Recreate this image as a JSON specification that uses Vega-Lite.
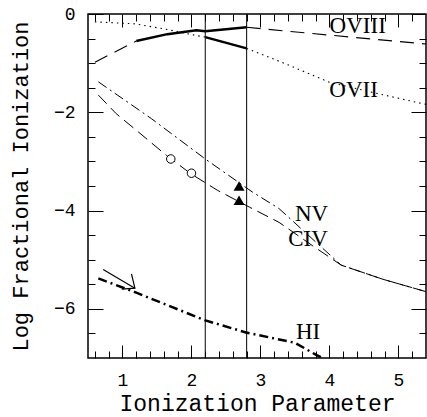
{
  "$schema": "https://vega.github.io/schema/vega-lite/v6.json",
  "width": 338,
  "height": 344,
  "autosize": {"type": "none"},
  "padding": {"left": 88, "top": 14, "right": 1, "bottom": 59},
  "background": "white",
  "config": {
    "view": {"stroke": "black", "strokeWidth": 1.5},
    "axis": {
      "domain": false, "grid": false, "tickColor": "black", "tickWidth": 1,
      "labelColor": "black", "labelFont": "Liberation Mono", "labelFontSize": 18,
      "labelFlush": false, "labelOverlap": false,
      "titleColor": "black", "titleFont": "Liberation Mono", "titleFontSize": 23, "titleFontWeight": "normal"
    }
  },
  "resolve": {"axis": {"x": "independent", "y": "independent"}},
  "layer": [
    {
      "data": {"values": [{"x": 2.2}, {"x": 2.8}]},
      "mark": {"type": "rule", "color": "black", "strokeWidth": 1},
      "encoding": {
        "x": {"field": "x", "type": "quantitative", "scale": {"domain": [0.5, 5.4], "nice": false, "zero": false},
          "axis": {"orient": "bottom", "values": [1, 2, 3, 4, 5], "tickSize": -13, "labelPadding": 26, "title": "Ionization Parameter", "titlePadding": 3}}
      }
    },
    {
      "data": {"values": [
        {"seg": "a", "x": 0.6, "y": -0.98}, {"seg": "a", "x": 1.2, "y": -0.55},
        {"seg": "b", "x": 2.8, "y": -0.27}, {"seg": "b", "x": 4.0, "y": -0.43}, {"seg": "b", "x": 5.4, "y": -0.61}
      ]},
      "mark": {"type": "line", "color": "black", "strokeWidth": 1.1, "strokeDash": [14, 8], "clip": true},
      "encoding": {
        "x": {"field": "x", "type": "quantitative", "scale": {"domain": [0.5, 5.4], "nice": false, "zero": false},
          "axis": {"orient": "bottom", "values": [0.6, 0.8, 1.2, 1.4, 1.6, 1.8, 2.2, 2.4, 2.6, 2.8, 3.2, 3.4, 3.6, 3.8, 4.2, 4.4, 4.6, 4.8, 5.2], "tickSize": -7, "labels": false, "title": null}},
        "y": {"field": "y", "type": "quantitative", "scale": {"domain": [-7, 0], "nice": false, "zero": false},
          "axis": {"orient": "left", "values": [-6, -4, -2, 0], "tickSize": -15, "labelPadding": 28, "title": "Log Fractional Ionization", "titleFontSize": 22, "titlePadding": 21}},
        "detail": {"field": "seg"}
      }
    },
    {
      "data": {"values": [
        {"seg": "o8", "x": 1.2, "y": -0.55}, {"seg": "o8", "x": 1.65, "y": -0.41}, {"seg": "o8", "x": 2.07, "y": -0.33}, {"seg": "o8", "x": 2.2, "y": -0.35}, {"seg": "o8", "x": 2.8, "y": -0.27},
        {"seg": "o7", "x": 2.2, "y": -0.47}, {"seg": "o7", "x": 2.8, "y": -0.70}
      ]},
      "mark": {"type": "line", "color": "black", "strokeWidth": 2.5, "clip": true},
      "encoding": {
        "x": {"field": "x", "type": "quantitative", "scale": {"domain": [0.5, 5.4], "nice": false, "zero": false},
          "axis": {"orient": "top", "values": [1, 2, 3, 4, 5], "tickSize": -13, "labels": false, "title": null}},
        "y": {"field": "y", "type": "quantitative", "scale": {"domain": [-7, 0], "nice": false, "zero": false},
          "axis": {"orient": "left", "values": [-6.5, -5.5, -5, -4.5, -3.5, -3, -2.5, -1.5, -1, -0.5], "tickSize": -7, "labels": false, "title": null}},
        "detail": {"field": "seg"}
      }
    },
    {
      "data": {"values": [
        {"seg": "a", "x": 0.6, "y": -0.16}, {"seg": "a", "x": 1.18, "y": -0.2}, {"seg": "a", "x": 1.63, "y": -0.31}, {"seg": "a", "x": 2.04, "y": -0.43}, {"seg": "a", "x": 2.2, "y": -0.47},
        {"seg": "b", "x": 2.8, "y": -0.7}, {"seg": "b", "x": 3.41, "y": -1.04}, {"seg": "b", "x": 4.0, "y": -1.39}, {"seg": "b", "x": 4.67, "y": -1.61}, {"seg": "b", "x": 5.4, "y": -1.84}
      ]},
      "mark": {"type": "line", "color": "black", "strokeWidth": 1.1, "strokeDash": [1.5, 4], "clip": true},
      "encoding": {
        "x": {"field": "x", "type": "quantitative", "scale": {"domain": [0.5, 5.4], "nice": false, "zero": false},
          "axis": {"orient": "top", "values": [0.6, 0.8, 1.2, 1.4, 1.6, 1.8, 2.2, 2.4, 2.6, 2.8, 3.2, 3.4, 3.6, 3.8, 4.2, 4.4, 4.6, 4.8, 5.2], "tickSize": -7, "labels": false, "title": null}},
        "y": {"field": "y", "type": "quantitative", "scale": {"domain": [-7, 0], "nice": false, "zero": false},
          "axis": {"orient": "right", "values": [-6, -4, -2, 0], "tickSize": -15, "labels": false, "title": null}},
        "detail": {"field": "seg"}
      }
    },
    {
      "data": {"values": [
        {"x": 0.65, "y": -1.38}, {"x": 1.42, "y": -2.13}, {"x": 2.2, "y": -2.95}, {"x": 2.88, "y": -3.62}, {"x": 3.27, "y": -3.96},
        {"x": 4.17, "y": -5.11}, {"x": 4.78, "y": -5.4}, {"x": 5.4, "y": -5.65}
      ]},
      "mark": {"type": "line", "color": "black", "strokeWidth": 1, "strokeDash": [10, 4, 2, 4], "clip": true},
      "encoding": {
        "x": {"field": "x", "type": "quantitative", "scale": {"domain": [0.5, 5.4], "nice": false, "zero": false}, "axis": null},
        "y": {"field": "y", "type": "quantitative", "scale": {"domain": [-7, 0], "nice": false, "zero": false},
          "axis": {"orient": "right", "values": [-6.5, -5.5, -5, -4.5, -3.5, -3, -2.5, -1.5, -1, -0.5], "tickSize": -7, "labels": false, "title": null}}
      }
    },
    {
      "data": {"values": [
        {"x": 0.65, "y": -1.65}, {"x": 0.91, "y": -2.03}, {"x": 1.23, "y": -2.4}, {"x": 1.64, "y": -2.88}, {"x": 1.99, "y": -3.25},
        {"x": 2.38, "y": -3.59}, {"x": 2.84, "y": -3.93}, {"x": 3.27, "y": -4.24}, {"x": 3.75, "y": -4.71}, {"x": 4.17, "y": -5.11},
        {"x": 4.78, "y": -5.4}, {"x": 5.4, "y": -5.65}
      ]},
      "mark": {"type": "line", "color": "black", "strokeWidth": 1, "strokeDash": [12, 6], "clip": true},
      "encoding": {
        "x": {"field": "x", "type": "quantitative", "scale": {"domain": [0.5, 5.4], "nice": false, "zero": false}, "axis": null},
        "y": {"field": "y", "type": "quantitative", "scale": {"domain": [-7, 0], "nice": false, "zero": false}, "axis": null}
      }
    },
    {
      "data": {"values": [
        {"x": 0.65, "y": -5.38}, {"x": 1.2, "y": -5.67}, {"x": 2.19, "y": -6.23}, {"x": 2.79, "y": -6.48}, {"x": 3.5, "y": -6.69},
        {"x": 3.8, "y": -6.93}, {"x": 3.96, "y": -7.04}
      ]},
      "mark": {"type": "line", "color": "black", "strokeWidth": 2.5, "strokeDash": [9, 4, 2, 4], "clip": true},
      "encoding": {
        "x": {"field": "x", "type": "quantitative", "scale": {"domain": [0.5, 5.4], "nice": false, "zero": false}, "axis": null},
        "y": {"field": "y", "type": "quantitative", "scale": {"domain": [-7, 0], "nice": false, "zero": false}, "axis": null}
      }
    },
    {
      "data": {"values": [
        {"seg": "shaft", "o": 1, "x": 0.72, "y": -5.2}, {"seg": "shaft", "o": 2, "x": 1.18, "y": -5.58},
        {"seg": "head", "o": 1, "x": 1.13, "y": -5.29}, {"seg": "head", "o": 2, "x": 1.18, "y": -5.58}, {"seg": "head", "o": 3, "x": 0.99, "y": -5.6}
      ]},
      "mark": {"type": "line", "color": "black", "strokeWidth": 1.2},
      "encoding": {
        "x": {"field": "x", "type": "quantitative", "scale": {"domain": [0.5, 5.4], "nice": false, "zero": false}, "axis": null},
        "y": {"field": "y", "type": "quantitative", "scale": {"domain": [-7, 0], "nice": false, "zero": false}, "axis": null},
        "detail": {"field": "seg"},
        "order": {"field": "o"}
      }
    },
    {
      "data": {"values": [{"x": 1.7, "y": -2.95}, {"x": 2.0, "y": -3.24}]},
      "mark": {"type": "point", "shape": "circle", "filled": false, "fill": "white", "fillOpacity": 1, "stroke": "black", "strokeWidth": 1, "size": 72, "opacity": 1},
      "encoding": {
        "x": {"field": "x", "type": "quantitative", "scale": {"domain": [0.5, 5.4], "nice": false, "zero": false}, "axis": null},
        "y": {"field": "y", "type": "quantitative", "scale": {"domain": [-7, 0], "nice": false, "zero": false}, "axis": null}
      }
    },
    {
      "data": {"values": [{"x": 2.69, "y": -3.5}, {"x": 2.69, "y": -3.79}]},
      "mark": {"type": "point", "shape": "triangle-up", "filled": true, "color": "black", "size": 120, "opacity": 1},
      "encoding": {
        "x": {"field": "x", "type": "quantitative", "scale": {"domain": [0.5, 5.4], "nice": false, "zero": false}, "axis": null},
        "y": {"field": "y", "type": "quantitative", "scale": {"domain": [-7, 0], "nice": false, "zero": false}, "axis": null}
      }
    },
    {
      "data": {"values": [
        {"x": 4.41, "y": -0.24, "label": "OVIII"},
        {"x": 4.35, "y": -1.55, "label": "OVII"},
        {"x": 3.74, "y": -4.07, "label": "NV"},
        {"x": 3.69, "y": -4.57, "label": "CIV"},
        {"x": 3.69, "y": -6.48, "label": "HI"}
      ]},
      "mark": {"type": "text", "font": "Liberation Serif", "fontSize": 23, "color": "black", "align": "center", "baseline": "middle"},
      "encoding": {
        "x": {"field": "x", "type": "quantitative", "scale": {"domain": [0.5, 5.4], "nice": false, "zero": false}, "axis": null},
        "y": {"field": "y", "type": "quantitative", "scale": {"domain": [-7, 0], "nice": false, "zero": false}, "axis": null},
        "text": {"field": "label"}
      }
    }
  ]
}
